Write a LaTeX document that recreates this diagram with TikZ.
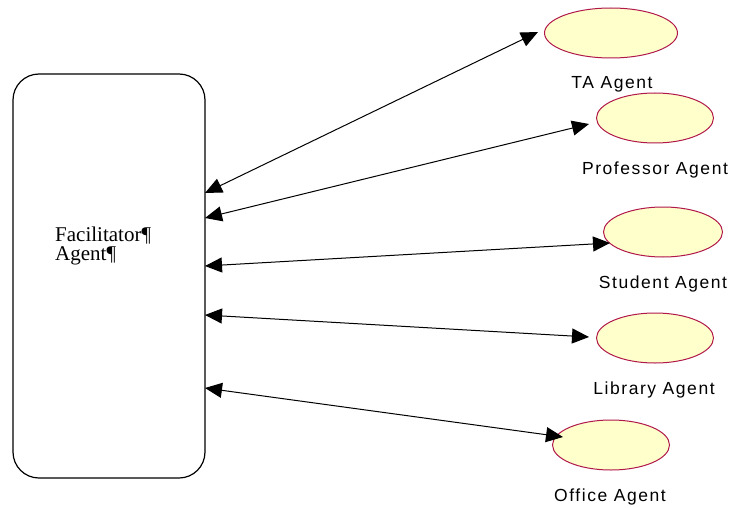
\documentclass[tikz,border=0pt]{standalone}
\usepackage{fontspec}
\setmainfont{Liberation Serif}
\newfontfamily\labelfont[LetterSpace=9]{Liberation Sans}
\usetikzlibrary{arrows.meta,shapes.geometric}
\definecolor{agentfill}{HTML}{FFFFCC}
\definecolor{agentedge}{HTML}{B0184A}
\tikzset{
  agent/.style={ellipse, draw=agentedge, fill=agentfill, line width=1pt,
    minimum width=#1, minimum height=50pt, inner sep=0pt},
  agentlabel/.style={font=\labelfont\fontsize{17.5pt}{20pt}\selectfont, inner sep=0pt, anchor=base},
  facbox/.style={draw, line width=1.2pt, rounded corners=26pt},
  link/.style={{Triangle[length=17pt,width=15pt]}-{Triangle[length=17pt,width=15pt]}, line width=1pt}
}
\begin{document}
\begin{tikzpicture}[x=1pt,y=-1pt]
\useasboundingbox (0,0) rectangle (736,508);

% facilitator
\draw[facbox] (13,74) rectangle (205,478);
\node[anchor=base west, inner sep=0pt, align=left,
      font=\fontsize{21pt}{19pt}\selectfont] (fac) at (55,260)
      {Facilitator¶\\Agent¶};

% agents
\node[agent=133pt] (ta)   at (611,33)  {};
\node[agent=117pt] (prof) at (655,118) {};
\node[agent=119pt] (stud) at (663,232) {};
\node[agent=117pt] (lib)  at (655,338) {};
\node[agent=117pt] (off)  at (611,445) {};

\node[agentlabel] (taL)   at (612,89)  {TA Agent};
\node[agentlabel] (profL) at (655,175) {Professor Agent};
\node[agentlabel] (studL) at (663,288) {Student Agent};
\node[agentlabel] (libL)  at (654,394) {Library Agent};
\node[agentlabel] (offL)  at (610,501) {Office Agent};

% connector end points
\coordinate (f1) at (205,193);
\coordinate (f2) at (205,218);
\coordinate (f3) at (205,266);
\coordinate (f4) at (205,315);
\coordinate (f5) at (205,388);
\coordinate (a1) at (538,32);
\coordinate (a2) at (589,124);
\coordinate (a3) at (610,243);
\coordinate (a4) at (589,337);
\coordinate (a5) at (563,437);

\draw[link] (f1) -- (a1);
\draw[link] (f2) -- (a2);
\draw[link] (f3) -- (a3);
\draw[link] (f4) -- (a4);
\draw[link] (f5) -- (a5);
\end{tikzpicture}
\end{document}
